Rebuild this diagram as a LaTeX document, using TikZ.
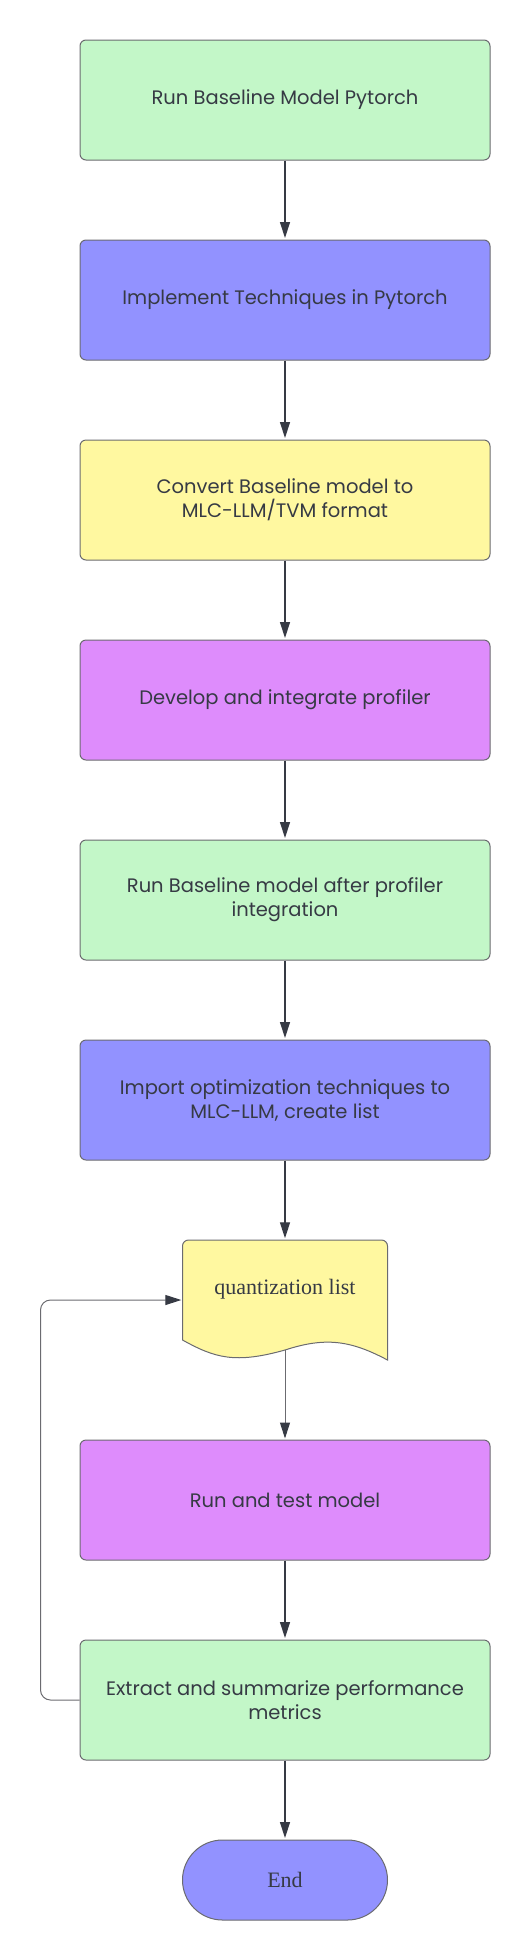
\documentclass[tikz,border=0pt]{standalone}
\usepackage{fontspec}
\usepackage{xcolor}
\usetikzlibrary{arrows.meta, positioning}
\newfontfamily\boxfont{Poppins}
\newfontfamily\docfont{Liberation Serif}
\definecolor{stepgreen}{HTML}{C3F7C8}
\definecolor{stepblue}{HTML}{9292FF}
\definecolor{stepyellow}{HTML}{FFF8A0}
\definecolor{stepviolet}{HTML}{DE8CFC}
\definecolor{inkgray}{HTML}{363A44}
\definecolor{edgegray}{HTML}{6B6B70}

\tikzset{
  stepbox/.style={draw=edgegray, line width=1pt, rounded corners=6pt,
    minimum width=410pt, minimum height=120pt, align=center,
    text=inkgray, font=\boxfont\fontsize{19.5}{24}\selectfont},
  flow/.style={draw=inkgray, line width=1.3pt,
    -{Triangle[length=16pt,width=10pt]}, shorten >=1.5pt},
  loopline/.style={draw=edgegray, line width=1pt, rounded corners=10pt,
    -{Triangle[length=16pt,width=10pt,color=inkgray]}, shorten >=1pt},
}

\begin{document}
\begin{tikzpicture}[x=1pt, y=-1pt]
  \useasboundingbox (0,0) rectangle (530,1960);

  % steps
  \node[stepbox, fill=stepgreen] (base) at (285,100) {Run Baseline Model Pytorch};
  \node[stepbox, fill=stepblue] (impl) at (285,300) {Implement Techniques in Pytorch};
  \node[stepbox, fill=stepyellow] (conv) at (285,500) {Convert Baseline model to\\MLC-LLM/TVM format};
  \node[stepbox, fill=stepviolet] (prof) at (285,700) {Develop and integrate profiler};
  \node[stepbox, fill=stepgreen] (rerun) at (285,900) {Run Baseline model after profiler\\integration};
  \node[stepbox, fill=stepblue] (import) at (285,1100) {Import optimization techniques to\\MLC-LLM, create list};

  % document shape
  \filldraw[draw=edgegray, fill=stepyellow, line width=1pt]
    (182.5,1340) [rounded corners=6pt] -- (182.5,1240) -- (387.5,1240)
    [sharp corners] -- (387.5,1360)
    .. controls (350,1340) and (325,1337) .. (285,1350)
    .. controls (235,1364) and (215,1358) .. (182.5,1340) -- cycle;
  \node[minimum width=205pt, minimum height=120pt] (qlist) at (285,1300) {};
  \node[text=inkgray, font=\docfont\fontsize{22}{26}\selectfont] (qtext)
    at ([yshift=11pt]qlist.center) {quantization list};
  \coordinate (qbot) at (285,1350);

  \node[stepbox, fill=stepviolet] (test) at (285,1500) {Run and test model};
  \node[stepbox, fill=stepgreen] (extract) at (285,1700) {Extract and summarize performance\\metrics};
  \node[draw=edgegray, fill=stepblue, line width=1pt, rounded corners=40pt,
    minimum width=205pt, minimum height=80pt, text=inkgray,
    font=\docfont\fontsize{22}{26}\selectfont] (end) at (285,1880) {End};

  % connectors
  \draw[flow] (base) -- (impl);
  \draw[flow] (impl) -- (conv);
  \draw[flow] (conv) -- (prof);
  \draw[flow] (prof) -- (rerun);
  \draw[flow] (rerun) -- (import);
  \draw[flow] (import) -- (qlist);
  \draw[loopline] (qbot) -- (test);
  \draw[flow] (test) -- (extract);
  \draw[flow] (extract) -- (end);
  \draw[loopline] (extract.west) -- ++(-39,0) |- (qlist.west);
\end{tikzpicture}
\end{document}
